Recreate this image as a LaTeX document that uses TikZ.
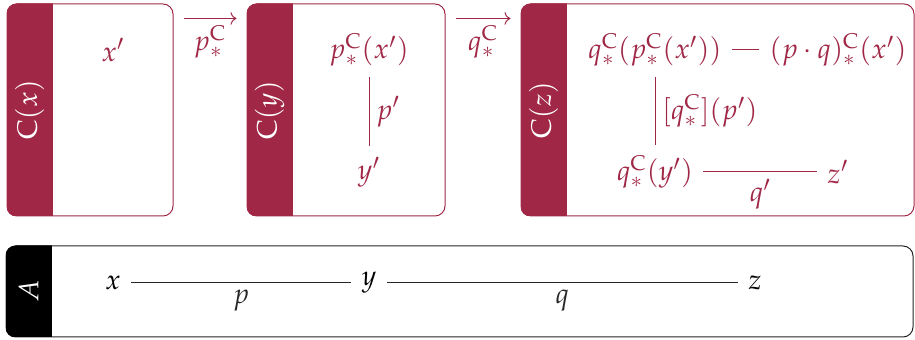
\documentclass[tikz,border=0pt]{standalone}
\usepackage{amsmath,amssymb}
\usepackage{mathpazo}
\usetikzlibrary{arrows.meta,positioning,calc}

\definecolor{crimson}{RGB}{160,40,70}

\begin{document}
\begin{tikzpicture}[
    x=0.5pt, y=-0.5pt,
    font=\fontsize{14}{16}\selectfont,
    frame/.style={draw=crimson, line width=0.5pt, rounded corners=5pt, rectangle, inner sep=0pt},
    baseframe/.style={frame, draw=black!85},
    side/.style={rotate=90, text=white},
    elem/.style={text=crimson, inner sep=5pt},
    path/.style={crimson, line width=0.5pt},
    morph/.style={crimson, line width=0.5pt, -{To[length=3pt]}},
    base/.style={black!85, line width=0.5pt}
]
\useasboundingbox (0,0) rectangle (915,340);

% fibres over x, y, z
\node[frame, minimum width=83pt, minimum height=106pt] (cx) at (90,110) {};
\node[frame, minimum width=99pt, minimum height=106pt] (cy) at (346,110) {};
\node[frame, minimum width=196.5pt, minimum height=106pt] (cz) at (717.5,110) {};
\node[baseframe, minimum width=453.5pt, minimum height=45.5pt] (ba) at (459.5,291.5) {};

\foreach \b/\c in {cx/crimson, cy/crimson, cz/crimson, ba/black} {
  \begin{scope}
    \clip[rounded corners=5pt] (\b.south west) rectangle (\b.north east);
    \fill[\c] (\b.south west) rectangle ($(\b.north west)+(46,0)$);
  \end{scope}
}

\node[side] (lx) at ($(cx.west)+(23,0)$) {$\mathrm{C}(x)$};
\node[side] (ly) at ($(cy.west)+(23,0)$) {$\mathrm{C}(y)$};
\node[side] (lz) at ($(cz.west)+(23,0)$) {$\mathrm{C}(z)$};
\node[side] (la) at ($(ba.west)+(23,0)$) {$A$};

% transport maps
\draw[morph] ($(cx.north east)+(10,15)$) -- node[below, text=crimson] {$p_*^{\mathrm{C}}$} ($(cy.north west)+(-10,15)$);
\draw[morph] ($(cy.north east)+(10,15)$) -- node[below, text=crimson] {$q_*^{\mathrm{C}}$} ($(cz.north west)+(-10,15)$);

% C(x)
\node[elem] (xp) at (113,50) {$x'$};

% C(y)
\node[elem] (px) at (369,50) {$p_*^{\mathrm{C}}(x')$};
\node[elem] (yp) at (369,172) {$y'$};
\draw[path] (px) -- node[right, text=crimson] {$p'$} (yp);

% C(z)
\node[elem] (qpx) at (655,50) {$q_*^{\mathrm{C}}(p_*^{\mathrm{C}}(x'))$};
\node[elem] (pqx) at (838,50) {$(p\cdot q)_*^{\mathrm{C}}(x')$};
\node[elem] (qy) at (655,172) {$q_*^{\mathrm{C}}(y')$};
\node[elem] (zp) at (838,172) {$z'$};
\draw[path] (qpx) -- (pqx);
\draw[path] (qpx) -- node[right, text=crimson] {$[q_*^{\mathrm{C}}](p')$} (qy);
\draw[path] (qy) -- node[below, text=crimson] {$q'$} (zp);

% base A
\node[inner sep=5pt] (x) at (113,283) {$x$};
\node[inner sep=5pt] (y) at (369,283) {$y$};
\node[inner sep=5pt] (z) at (755,283) {$z$};
\draw[base] (x) -- node[below] {$p$} (y);
\draw[base] (y) -- node[below] {$q$} (z);

\end{tikzpicture}
\end{document}
